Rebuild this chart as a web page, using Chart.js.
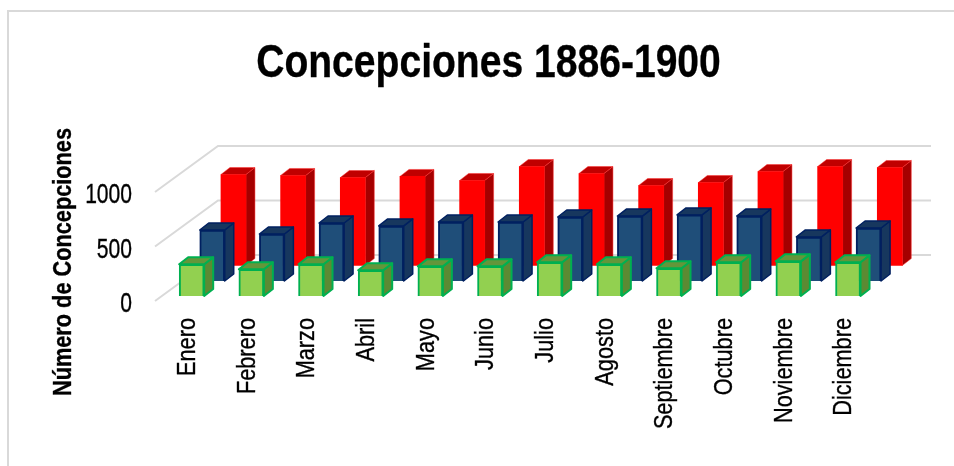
<!DOCTYPE html>
<html>
<head>
<meta charset="utf-8">
<title>Concepciones 1886-1900</title>
<script src="https://cdn.jsdelivr.net/npm/chart.js@4"></script>
<style>
  body { margin: 0; background: #fff; }
  #frame { position: absolute; left: 7px; top: 10px; width: 947px; height: 456px; box-sizing: border-box; border-left: 2px solid #d9d9d9; border-top: 2px solid #d9d9d9; }
  #c { position: absolute; left: 0; top: 0; }
</style>
</head>
<body>
<div id="frame"></div>
<canvas id="c" width="954" height="466"></canvas>
<script>
const months = ['Enero', 'Febrero', 'Marzo', 'Abril', 'Mayo', 'Junio', 'Julio', 'Agosto', 'Septiembre', 'Octubre', 'Noviembre', 'Diciembre'];
// front row to back row
const frontRow = [291, 245, 291, 236, 272, 272, 309, 291, 254, 309, 318, 309];
const middleRow = [468, 431, 532, 505, 541, 541, 587, 596, 606, 596, 404, 486];
const backRow = [835, 826, 807, 817, 780, 908, 844, 734, 761, 862, 908, 899];
const yTicks = [0, 500, 1000];
const chartTitle = 'Concepciones 1886-1900';
const yTitle = 'Número de Concepciones';

// how far each row sits back on the floor
const rowDepth = [5, 20, 35.5];
const wall = { dx: 63, dy: 46 };
const box = { dx: 9, dy: 7 };
const faces = [
  { top: '#64963a', side: '#5c8a33', edge: '#00b050', line: 2 },
  { top: '#17375e', side: '#17375e', edge: '#002060', line: 1.5 },
  { top: '#c00000', side: '#a50000', edge: '#ff3030', line: 0.5 }
];

// no narrow font is installed, so squeeze Liberation Sans along the baseline
function narrowText(ctx, text, x, y, size, opts) {
  opts = opts || {};
  ctx.save();
  ctx.translate(x, y);
  if (opts.vertical) ctx.rotate(-Math.PI / 2);
  ctx.scale(opts.squeeze || 0.82, 1);
  ctx.font = (opts.bold ? 'bold ' : '') + size + 'px "Liberation Sans", Arial, sans-serif';
  ctx.fillStyle = '#000';
  ctx.strokeStyle = '#000';
  ctx.lineWidth = 0.35;
  ctx.textAlign = opts.align || 'left';
  ctx.textBaseline = 'alphabetic';
  ctx.fillText(text, 0, 0);
  ctx.strokeText(text, 0, 0); // original is a bit heavier from being rescaled
  ctx.restore();
}

const fake3d = {
  id: 'fake3d',
  beforeDatasetsDraw(chart) {
    const { ctx, chartArea, scales } = chart;
    ctx.save();
    ctx.strokeStyle = '#d9d9d9';
    ctx.lineWidth = 2;
    yTicks.forEach(v => {
      const y = scales.y.getPixelForValue(v);
      ctx.beginPath();
      ctx.moveTo(chartArea.left, y);
      ctx.lineTo(chartArea.left + wall.dx, y - wall.dy);
      ctx.lineTo(chartArea.right + wall.dx - 3, y - wall.dy);
      ctx.stroke();
    });
    ctx.restore();
  },
  beforeDatasetDraw(chart, args) {
    const { ctx } = chart;
    const i = args.index;
    const f = faces[i];
    ctx.save();
    // slide the whole row back along the floor
    ctx.translate(rowDepth[i] * wall.dx / wall.dy, -rowDepth[i]);
    ctx.lineWidth = f.line;
    ctx.lineJoin = 'round';
    args.meta.data.forEach(bar => {
      const { x, y, base, width } = bar.getProps(['x', 'y', 'base', 'width'], true);
      const l = x - width / 2, r = x + width / 2;
      ctx.strokeStyle = f.edge;
      ctx.fillStyle = f.side;
      ctx.beginPath();
      ctx.moveTo(r, y);
      ctx.lineTo(r + box.dx, y - box.dy);
      ctx.lineTo(r + box.dx, base - box.dy);
      ctx.lineTo(r, base);
      ctx.closePath();
      ctx.fill();
      ctx.stroke();
      ctx.fillStyle = f.top;
      ctx.beginPath();
      ctx.moveTo(l, y);
      ctx.lineTo(l + box.dx, y - box.dy);
      ctx.lineTo(r + box.dx, y - box.dy);
      ctx.lineTo(r, y);
      ctx.closePath();
      ctx.fill();
      ctx.stroke();
    });
  },
  afterDatasetDraw(chart) {
    chart.ctx.restore();
  },
  afterDraw(chart) {
    const { ctx, scales } = chart;
    narrowText(ctx, chartTitle, 488.5, 77, 46.5, { bold: true, align: 'center', squeeze: 0.84 });
    narrowText(ctx, yTitle, 71, 262, 26.5, { bold: true, vertical: true, align: 'center' });
    yTicks.forEach(v => {
      narrowText(ctx, String(v), 132, scales.y.getPixelForValue(v) + 11, 27, { align: 'right', squeeze: 0.78 });
    });
    months.forEach((m, i) => {
      narrowText(ctx, m, scales.x.getPixelForTick(i) + 10, 318, 26.5, { vertical: true, align: 'right' });
    });
  }
};

new Chart(document.getElementById('c'), {
  type: 'bar',
  data: {
    labels: months,
    datasets: [
      { label: 'Serie 3', data: frontRow, backgroundColor: '#92d050', borderColor: '#00b050', borderWidth: 2 },
      { label: 'Serie 2', data: middleRow, backgroundColor: '#1f4e79', borderColor: '#002060', borderWidth: 2 },
      { label: 'Serie 1', data: backRow, backgroundColor: '#ff0000', borderColor: '#ff0000', borderWidth: 0 }
    ]
  },
  options: {
    responsive: false,
    animation: false,
    clip: false,
    grouped: false,
    barThickness: 25,
    layout: { padding: { left: 0, right: 83, top: 192, bottom: 0 } },
    plugins: {
      legend: { display: false },
      tooltip: { enabled: false }
    },
    scales: {
      x: {
        grid: { display: false },
        border: { display: false },
        ticks: { display: false, autoSkip: false },
        afterFit(scale) { scale.height = 165; }
      },
      y: {
        min: 0,
        max: 1000,
        grid: { display: false },
        border: { display: false },
        ticks: { display: false },
        afterBuildTicks(scale) { scale.ticks = yTicks.map(value => ({ value })); },
        afterFit(scale) { scale.width = 155; }
      }
    }
  },
  plugins: [fake3d]
});
</script>
</body>
</html>
